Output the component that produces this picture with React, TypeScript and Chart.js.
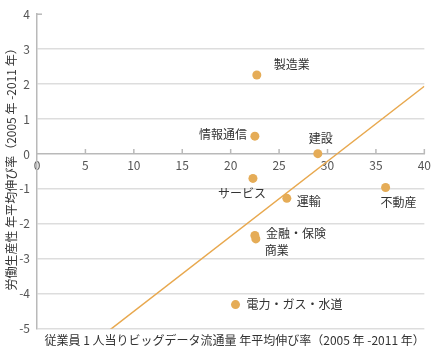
import React, { useEffect, useRef } from "react";
import { Chart, registerables } from "chart.js";

Chart.register(...registerables);

const industries = ["製造業", "情報通信", "建設", "サービス", "運輸", "不動産", "金融・保険", "商業", "電力・ガス・水道"];
const dataGrowth = [22.7, 22.5, 29.0, 22.3, 25.8, 36.0, 22.5, 22.6, 20.5];
const productivityGrowth = [2.26, 0.51, 0.01, -0.7, -1.27, -0.96, -2.33, -2.43, -4.31];
const trendSlope = 0.2147;
const trendIntercept = -6.65;
const xRange = [0, 40];
const yRange = [-5, 4];
const xTitle = "従業員 1 人当りビッグデータ流通量 年平均伸び率（2005 年 -2011 年）";
const yTitle = "労働生産性 年平均伸び率（2005 年 -2011 年）";

// label placement: [dx, dy, align]
const labelPlacement: [number, number, CanvasTextAlign][] = [
  [17, -11, "left"],
  [-8, -1.5, "right"],
  [3, -15, "center"],
  [-11, 15, "center"],
  [10, 3, "left"],
  [13, 15, "center"],
  [11, -2, "left"],
  [9, 12, "left"],
  [11, 0, "left"],
];

const FONT = '"Noto Sans CJK JP", "Noto Sans", sans-serif';
const AXIS_COLOR = "#b9b9b9";
const GRID_COLOR = "#dddddd";
const POINT_COLOR = "#E5AC57";
const LINE_COLOR = "#E8A84E";

const decorPlugin = {
  id: "decor",
  afterDatasetsDraw(chart: any) {
    const ctx = chart.ctx;
    const xs = chart.scales.x;
    const ys = chart.scales.y;
    const area = chart.chartArea;
    const y0 = ys.getPixelForValue(0);
    ctx.save();
    ctx.strokeStyle = AXIS_COLOR;
    ctx.lineWidth = 1.5;
    for (let v = 5; v <= xRange[1]; v += 5) {
      const px = xs.getPixelForValue(v);
      ctx.beginPath();
      ctx.moveTo(px, y0);
      ctx.lineTo(px, y0 - 5);
      ctx.stroke();
    }
    const yTop = ys.getPixelForValue(yRange[1]);
    ctx.beginPath();
    ctx.moveTo(area.left, yTop);
    ctx.lineTo(area.left + 5, yTop);
    ctx.stroke();

    const meta = chart.getDatasetMeta(0);
    ctx.font = `12px ${FONT}`;
    ctx.fillStyle = "#333333";
    ctx.textBaseline = "middle";
    meta.data.forEach((pt: any, i: number) => {
      const [dx, dy, align] = labelPlacement[i];
      ctx.textAlign = align;
      ctx.fillText(industries[i], pt.x + dx, pt.y + dy);
    });

    // axis titles
    ctx.textAlign = "center";
    ctx.fillText(xTitle, (area.left + area.right) / 2 + 4, chart.height - 11);
    ctx.translate(11, (area.top + area.bottom) / 2 - 5);
    ctx.rotate(-Math.PI / 2);
    ctx.fillText(yTitle, 0, 0);
    ctx.restore();
  },
};

export default function App() {
  const ref = useRef<HTMLCanvasElement>(null);
  useEffect(() => {
    if (!ref.current) return;
    const points = industries.map((_, i) => ({ x: dataGrowth[i], y: productivityGrowth[i] }));
    const trend = xRange.map((x) => ({ x, y: trendSlope * x + trendIntercept }));
    const chart = new Chart(ref.current, {
      type: "scatter",
      data: {
        datasets: [
          {
            data: points,
            backgroundColor: POINT_COLOR,
            borderWidth: 0,
            pointRadius: 4.5,
            order: 1,
          },
          {
            data: trend,
            showLine: true,
            borderColor: LINE_COLOR,
            borderWidth: 1.5,
            pointRadius: 0,
            order: 2,
          } as any,
        ],
      },
      plugins: [decorPlugin],
      options: {
        animation: false,
        responsive: true,
        maintainAspectRatio: false,
        layout: { padding: { top: 8, right: 9.3, left: 0, bottom: 22.3 } },
        plugins: { legend: { display: false }, tooltip: { enabled: false } },
        scales: {
          x: {
            type: "linear",
            position: { y: 0 } as any,
            min: xRange[0],
            max: xRange[1],
            ticks: { stepSize: 5, color: "#555555", font: { family: FONT, size: 12 }, padding: 4 },
            grid: { color: "rgba(0,0,0,0)", drawTicks: false },
            border: { display: true, color: AXIS_COLOR, width: 1.5 },
          },
          y: {
            type: "linear",
            position: "left",
            min: yRange[0],
            max: yRange[1],
            ticks: { stepSize: 1, color: "#555555", font: { family: FONT, size: 12 }, padding: 7 },
            grid: {
              drawTicks: false,
              lineWidth: 1.5,
              color: (c: any) =>
                c.tick && (c.tick.value === 0 || c.tick.value === yRange[1]) ? "rgba(0,0,0,0)" : GRID_COLOR,
            },
            border: { display: true, color: AXIS_COLOR, width: 1.5 },
            afterFit: (s: any) => {
              s.width = 37;
            },
          },
        },
      },
    });
    return () => chart.destroy();
  }, []);
  return (
    <div style={{ position: "absolute", left: 0, top: 0, width: 435, height: 351 }}>
      <canvas ref={ref} />
    </div>
  );
}
